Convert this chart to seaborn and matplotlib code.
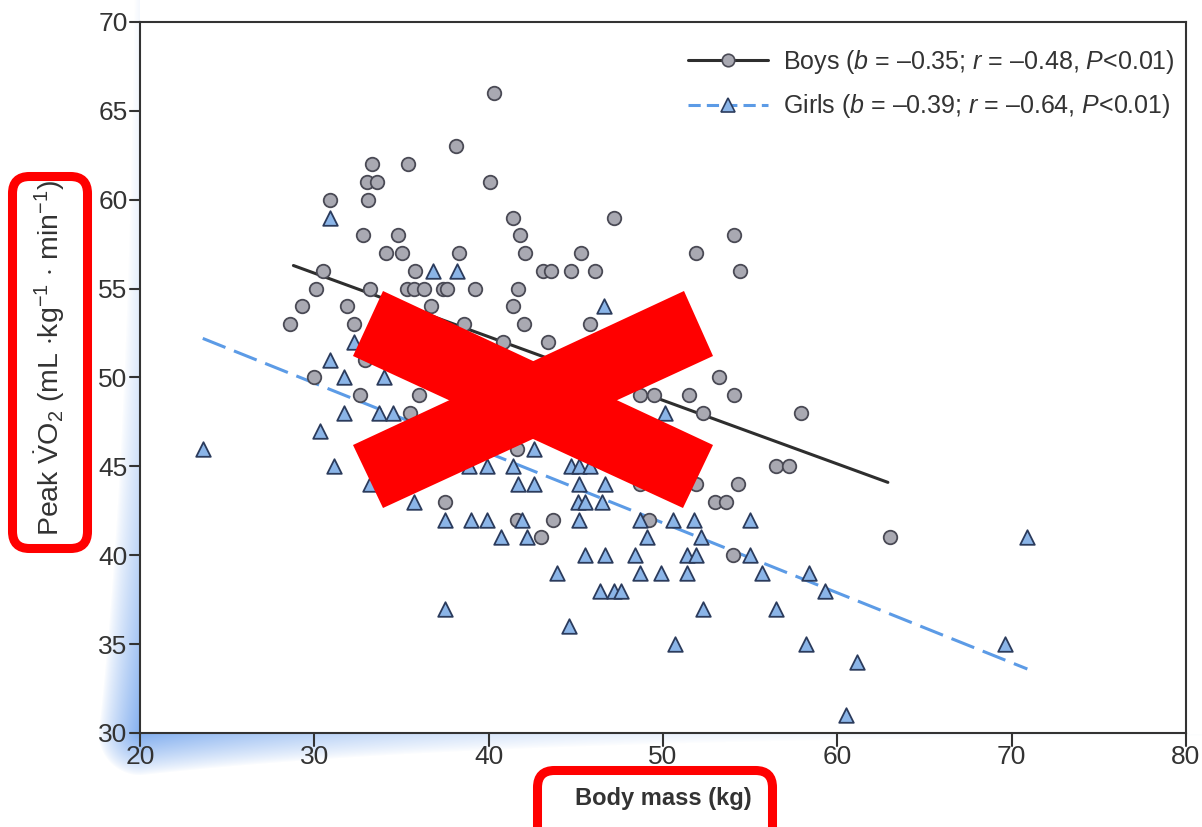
import numpy as np
import pandas as pd
import matplotlib
matplotlib.use("Agg")
import matplotlib.pyplot as plt
import seaborn as sns
from matplotlib.lines import Line2D
from matplotlib.patches import Polygon, FancyBboxPatch, Rectangle

# ---------------- data ----------------
boys_mass = [40.3, 38.1, 33.3, 35.4, 33.0, 33.6, 40.1, 30.9, 33.1, 41.4, 47.2, 32.8, 34.8, 41.8, 54.1,
             34.1, 35.0, 38.3, 42.1, 45.3, 51.9, 30.5, 35.8, 43.1, 43.6, 44.7, 46.1, 54.4,
             30.1, 33.2, 35.3, 35.7, 36.3, 37.4, 37.6, 39.2, 41.7, 29.3, 31.9, 36.7, 41.4,
             28.6, 32.3, 38.6, 42.0, 45.8, 40.8, 43.4, 32.9, 30.0, 53.2, 32.6, 36.0, 48.7, 49.5,
             51.5, 54.1, 35.5, 52.3, 57.9, 41.6, 56.5, 57.2, 48.7, 51.9, 54.3, 53.0, 53.6, 37.5,
             41.6, 43.7, 49.2, 43.0, 63.0, 54.0]
boys_vo2 = [66, 63, 62, 62, 61, 61, 61, 60, 60, 59, 59, 58, 58, 58, 58,
            57, 57, 57, 57, 57, 57, 56, 56, 56, 56, 56, 56, 56,
            55, 55, 55, 55, 55, 55, 55, 55, 55, 54, 54, 54, 54,
            53, 53, 53, 53, 53, 52, 52, 51, 50, 50, 49, 49, 49, 49,
            49, 49, 48, 48, 48, 46, 45, 45, 44, 44, 44, 43, 43, 43,
            42, 42, 42, 41, 41, 40]

girls_mass = [30.9, 36.8, 38.2, 46.6, 32.3, 30.9, 31.7, 34.0, 31.7, 33.7, 34.5, 50.1, 30.3, 23.6, 42.6,
              31.1, 38.9, 39.9, 41.4, 44.7, 45.2, 45.8, 33.2, 41.7, 42.6, 45.2, 46.7,
              35.7, 45.1, 45.5, 46.5, 37.5, 39.0, 39.9, 41.9, 45.2, 48.7, 50.6, 51.8, 55.0,
              40.7, 42.2, 49.1, 52.2, 70.9, 45.5, 46.7, 48.4, 51.4, 51.9, 55.0,
              43.9, 48.7, 49.9, 51.4, 55.7, 58.4, 46.4, 47.2, 47.6, 59.3, 37.5, 52.3, 56.5,
              44.6, 50.7, 58.2, 69.6, 61.1, 60.5]
girls_vo2 = [59, 56, 56, 54, 52, 51, 50, 50, 48, 48, 48, 48, 47, 46, 46,
             45, 45, 45, 45, 45, 45, 45, 44, 44, 44, 44, 44,
             43, 43, 43, 43, 42, 42, 42, 42, 42, 42, 42, 42, 42,
             41, 41, 41, 41, 41, 40, 40, 40, 40, 40, 40,
             39, 39, 39, 39, 39, 39, 38, 38, 38, 38, 37, 37, 37,
             36, 35, 35, 35, 34, 31]

boys_fit_mass = [28.8, 62.9]
boys_fit_vo2 = [56.3, 44.1]
girls_fit_mass = [23.6, 70.9]
girls_fit_vo2 = [52.2, 33.6]

x_ticks = [20, 30, 40, 50, 60, 70, 80]
y_ticks = [30, 35, 40, 45, 50, 55, 60, 65, 70]

boys_label = "Boys ($b$ = \u20130.35; $r$ = \u20130.48, $P$<0.01)"
girls_label = "Girls ($b$ = \u20130.39; $r$ = \u20130.64, $P$<0.01)"
x_label = "Body mass (kg)"
y_label = r"Peak $\dot{\mathrm{V}}$O$_2$ (mL $\cdot$kg$^{-1}$ $\cdot$ min$^{-1}$)"

# ---------------- style ----------------
INK = "#333333"
sns.set_theme(style="ticks", rc={
    "xtick.major.size": 7, "ytick.major.size": 7,
    "xtick.major.width": 1.3, "ytick.major.width": 1.3,
    "xtick.color": INK, "ytick.color": INK,
    "xtick.direction": "out", "ytick.direction": "out",
})
FAM = ["Liberation Sans Narrow", "Liberation Sans", "DejaVu Sans"]
plt.rcParams["font.family"] = FAM
plt.rcParams["mathtext.fontset"] = "custom"
plt.rcParams["mathtext.rm"] = "Liberation Sans"
plt.rcParams["mathtext.it"] = "Liberation Sans:italic"
plt.rcParams["mathtext.bf"] = "Liberation Sans:bold"

BOY_FILL, BOY_EDGE = "#a9a9b2", "#4a4a55"
GIRL_FILL, GIRL_EDGE = "#8bb5e8", "#2b3b5c"
GIRL_LINE = "#5c9be6"

W, H = 1202, 827
fig = plt.figure(figsize=(W / 100, H / 100), dpi=100)
fig.patch.set_facecolor("white")

ax = fig.add_axes([140 / W, 1 - 733 / H, (1186 - 140) / W, (733 - 22) / H])
ax.set_zorder(2)

# blue scan shadow along left & bottom spines (background axes under the plot)
bg = fig.add_axes([0, 0, 1, 1])
bg.set_zorder(0)
bg.axis("off")
L_px, B_px = 140, 733
yy, xx = np.mgrid[0:H, 0:W].astype(float)
dx = np.clip(L_px - xx, 0, None)
dy = np.clip(yy - B_px, 0, None)
d = np.hypot(dx, dy)
along = np.clip(B_px - yy, 0, None) + np.clip(xx - L_px, 0, None)
outside = (xx < L_px) | (yy > B_px)
width = 42 * np.exp(-along / 380.0)
alpha = np.where(outside, 0.8 * np.exp(-along / 300.0) * np.clip(1 - d / width, 0, 1) ** 0.8, 0)
shadow = np.ones((H, W, 3))
col = np.array([100, 155, 235]) / 255
shadow = shadow * (1 - alpha[..., None]) + col * alpha[..., None]
bg.imshow(shadow, extent=[0, 1, 0, 1], aspect="auto", interpolation="nearest", origin="upper")

boys_df = pd.DataFrame({"mass": boys_mass, "vo2": boys_vo2})
girls_df = pd.DataFrame({"mass": girls_mass, "vo2": girls_vo2})
boys_fit = pd.DataFrame({"mass": boys_fit_mass, "vo2": boys_fit_vo2})
girls_fit = pd.DataFrame({"mass": girls_fit_mass, "vo2": girls_fit_vo2})

sns.lineplot(data=boys_fit, x="mass", y="vo2", ax=ax, color="#2e2e2e", lw=2.2, zorder=2)
sns.lineplot(data=girls_fit, x="mass", y="vo2", ax=ax, color=GIRL_LINE, lw=2.2, zorder=2)
ax.lines[-1].set_dashes([8, 3])
sns.scatterplot(data=boys_df, x="mass", y="vo2", ax=ax, marker="o", s=95,
                color=BOY_FILL, edgecolor=BOY_EDGE, linewidth=1.3, zorder=3)
sns.scatterplot(data=girls_df, x="mass", y="vo2", ax=ax, marker="^", s=110,
                color=GIRL_FILL, edgecolor=GIRL_EDGE, linewidth=1.3, zorder=3)

ax.set_xlim(20, 80)
ax.set_ylim(30, 70)
ax.set_xticks(x_ticks)
ax.set_yticks(y_ticks)
ax.tick_params(axis="both", which="major", direction="out", bottom=True, left=True,
               top=False, right=False, length=7, width=1.3, color=INK,
               labelcolor=INK, labelsize=19, pad=2)
for sp in ax.spines.values():
    sp.set_visible(True)
    sp.set_color(INK)
    sp.set_linewidth(1.5)

# explicit outward tick strokes as figure-level artists, positioned by the axes scales
xt_tr = ax.get_xaxis_transform()
yt_tr = ax.get_yaxis_transform()
tick_x_len = 13 / 711.0
tick_y_len = 10 / 1046.0
for v in x_ticks:
    fig.add_artist(Line2D([v, v], [0, -tick_x_len], transform=xt_tr, color=INK,
                          lw=1.5, zorder=9))
for v in y_ticks:
    fig.add_artist(Line2D([0, -tick_y_len], [v, v], transform=yt_tr, color=INK,
                          lw=1.5, zorder=9))

ax.set_xlabel(x_label, fontsize=17, color=INK, fontweight="bold",
              family=["Liberation Sans", "DejaVu Sans"])
ax.set_ylabel(y_label, fontsize=20.5, color=INK,
              family=["Liberation Sans", "DejaVu Sans"])
ax.xaxis.set_label_coords(0.5, -0.076)
ax.yaxis.set_label_coords(-0.07, 0.528)

handles = [
    Line2D([], [], color="#2e2e2e", lw=2.2, marker="o", markersize=9,
           markerfacecolor=BOY_FILL, markeredgecolor=BOY_EDGE, markeredgewidth=1.2),
    Line2D([], [], color=GIRL_LINE, lw=2.2, dashes=[4, 2], marker="^", markersize=10,
           markerfacecolor=GIRL_FILL, markeredgecolor=GIRL_EDGE, markeredgewidth=1.2),
]
leg = ax.legend(handles, [boys_label, girls_label], loc="upper right",
                bbox_to_anchor=(1.011, 0.995), frameon=False, fontsize=18,
                handlelength=3.2, handletextpad=0.6, labelspacing=0.65,
                borderaxespad=0.5)
for t in leg.get_texts():
    t.set_color(INK)

# ---------------- red annotation overlay (pixel -> inches) ----------------
def px(pts):
    return [(x / 100, (H - y) / 100) for x, y in pts]

tr = fig.dpi_scale_trans
red = "#ff0000"
bar1 = Polygon(px([(383, 291), (713, 445), (683, 508), (353, 356)]), closed=True,
               facecolor=red, edgecolor="none", transform=tr, zorder=10)
bar2 = Polygon(px([(684, 291), (713, 356), (383, 508), (353, 445)]), closed=True,
               facecolor=red, edgecolor="none", transform=tr, zorder=10)
fig.add_artist(bar1)
fig.add_artist(bar2)

box_y = FancyBboxPatch((12.5 / 100, (H - 548.5) / 100), 75 / 100, 372 / 100,
                       boxstyle="round,pad=0,rounding_size=0.17", facecolor="none",
                       edgecolor=red, lw=6.5, transform=tr, zorder=10)
box_x = FancyBboxPatch((537.5 / 100, (H - 845) / 100), 235 / 100, 74.5 / 100,
                       boxstyle="round,pad=0,rounding_size=0.17", facecolor="none",
                       edgecolor=red, lw=6.5, transform=tr, zorder=10)
fig.add_artist(box_y)
fig.add_artist(box_x)

fig.savefig("out.png", dpi=100, facecolor="white")
